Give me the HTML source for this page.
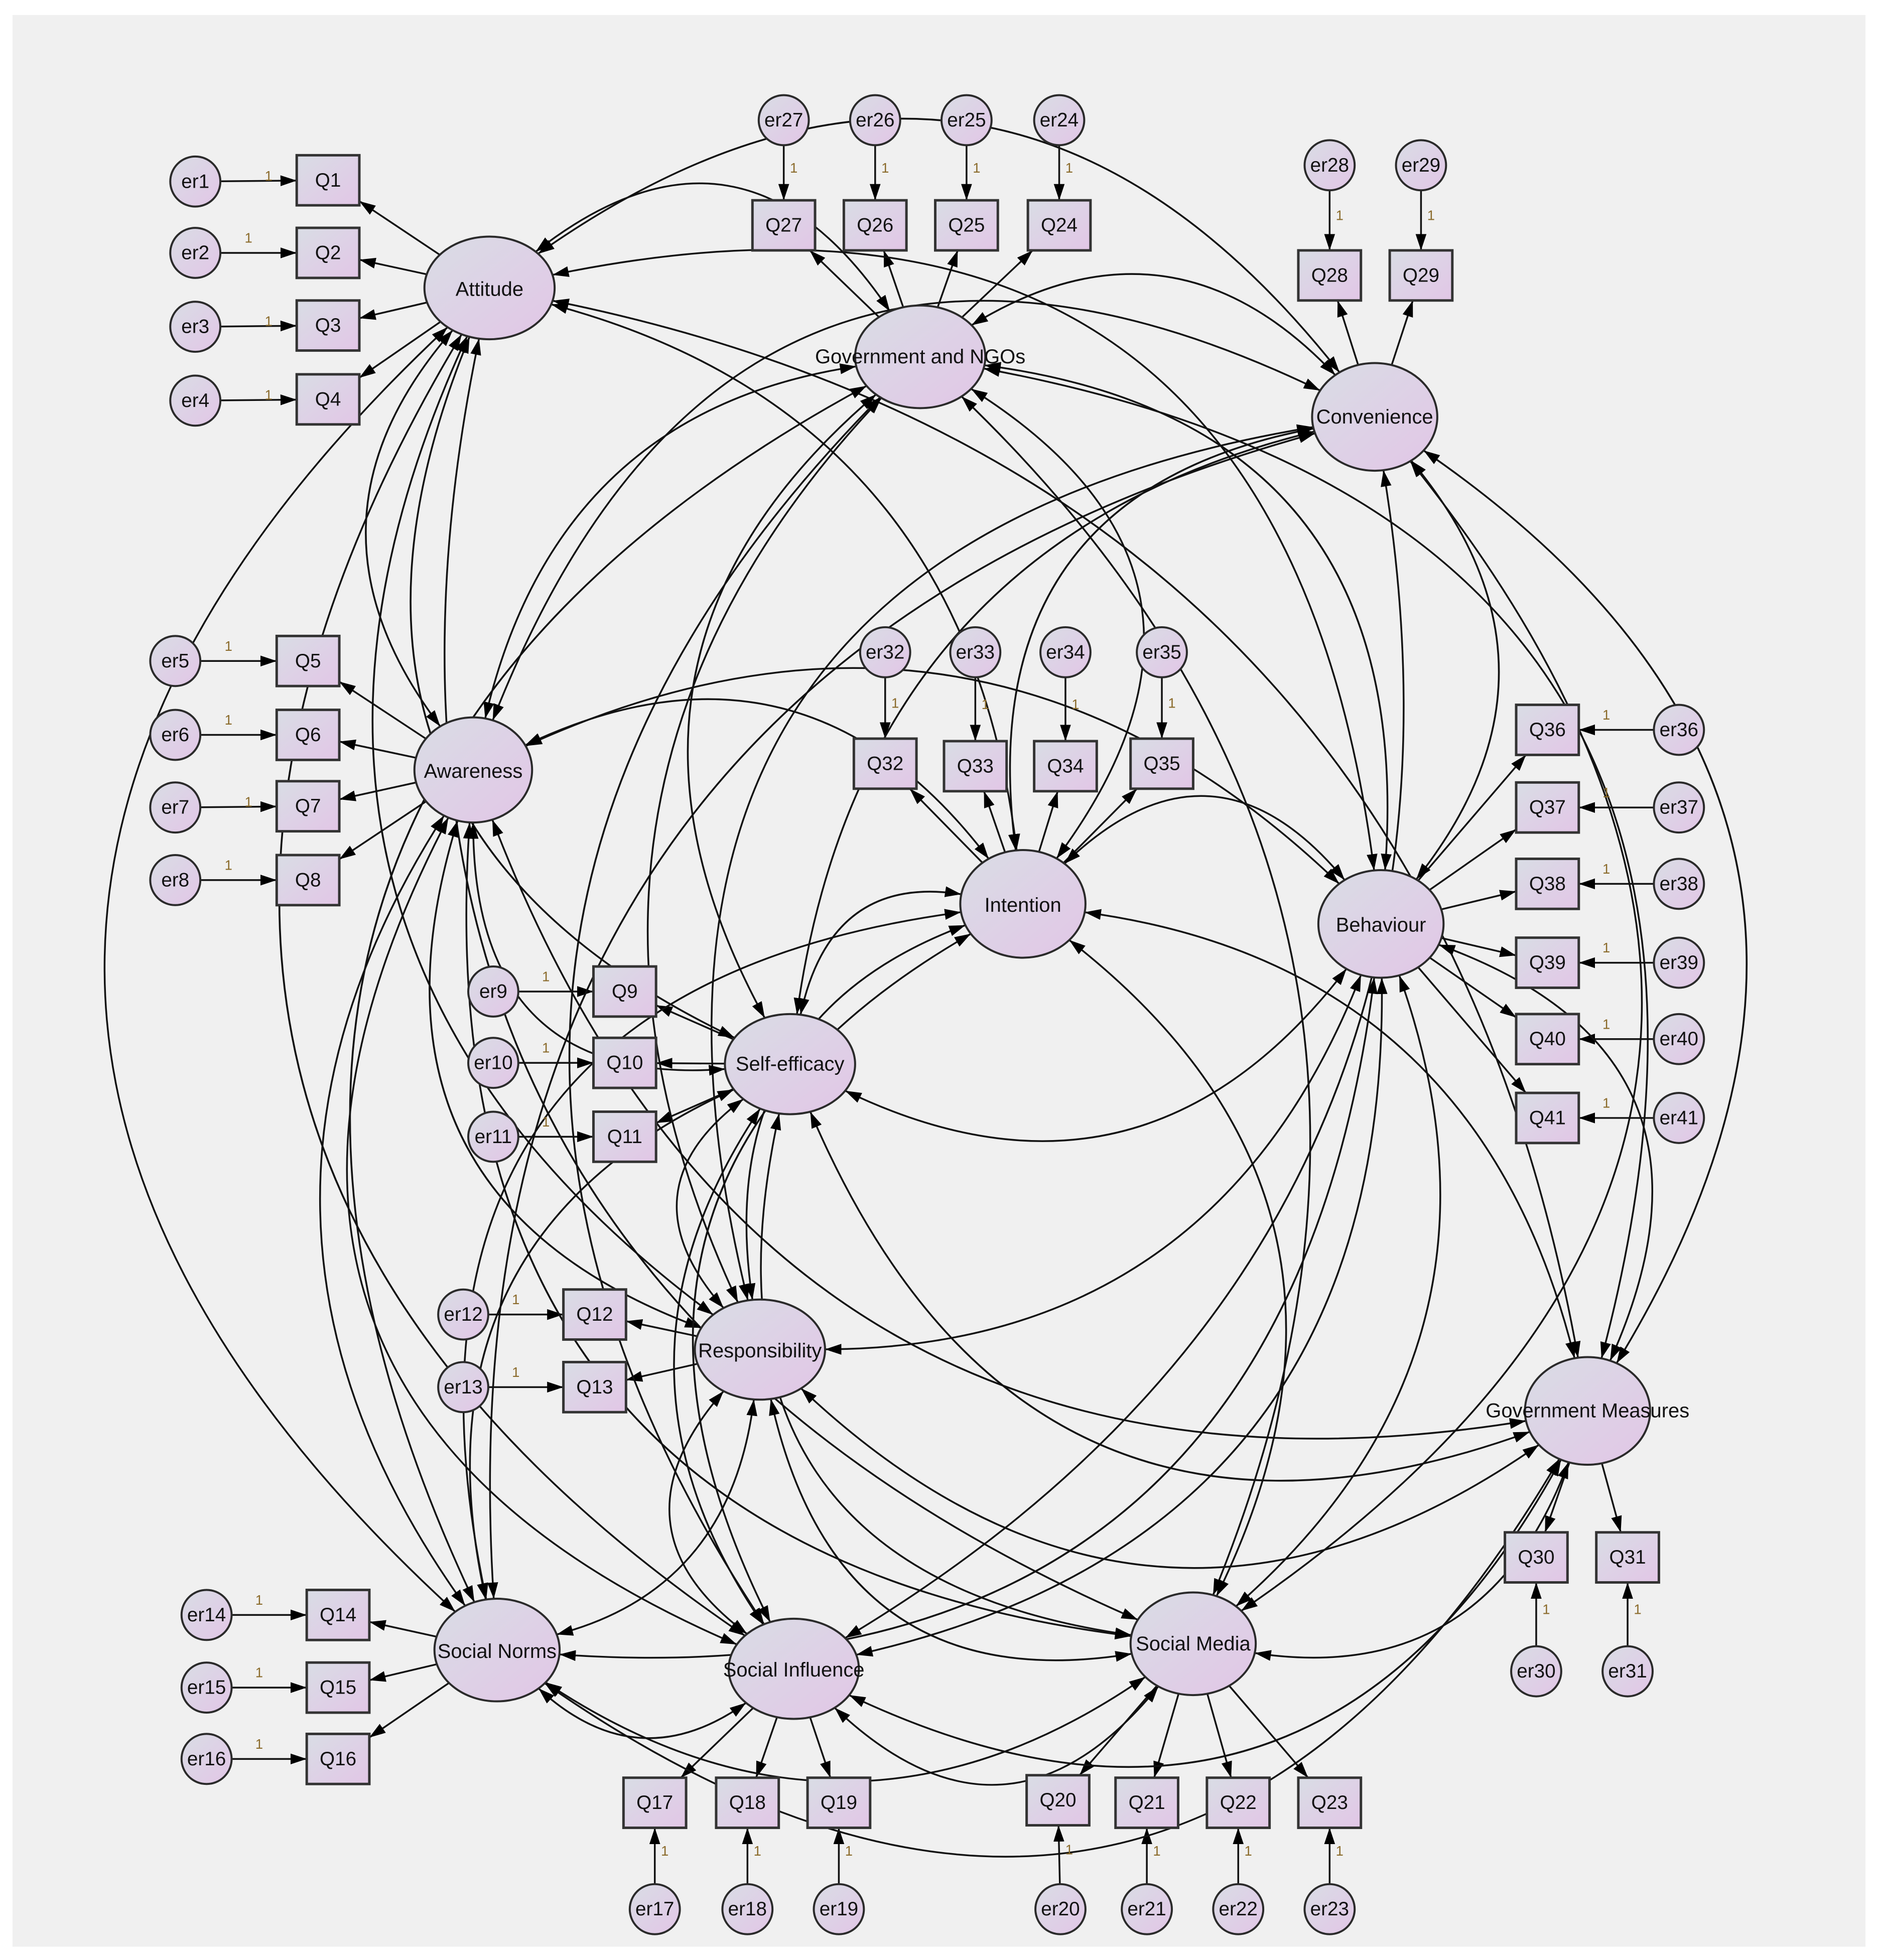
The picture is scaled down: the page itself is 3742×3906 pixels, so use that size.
<!DOCTYPE html>
<html><head><meta charset="utf-8">
<style>
html,body{margin:0;padding:0;background:#fff;}
svg{display:block;}
.e{fill:url(#gr);stroke:#2a2a2a;stroke-width:1.6;}
.b{fill:url(#gr);stroke:#333;stroke-width:2;}
text{font-family:"Liberation Sans",sans-serif;fill:#111;text-anchor:middle;dominant-baseline:central;}
.lt{font-size:16px;}
.qt{font-size:15.5px;}
.et{font-size:15.5px;}
.one{font-size:11px;fill:#8a6a2a;}
.ln{fill:none;stroke:#111;stroke-width:1.4;}
</style></head>
<body>
<svg width="3742" height="3906" viewBox="0 0 1500 1565.6" preserveAspectRatio="none" xmlns="http://www.w3.org/2000/svg">
<defs>
<linearGradient id="gr" x1="0" y1="0" x2="1" y2="1">
<stop offset="0" stop-color="#d9dde5"/><stop offset="1" stop-color="#e2c6e6"/>
</linearGradient>
<marker id="ah" viewBox="0 0 12 8" refX="12" refY="4" markerWidth="13" markerHeight="9" markerUnits="userSpaceOnUse" orient="auto-start-reverse">
<path d="M0,0 L12,4 L0,8 z" fill="#000"/></marker>
</defs>
<rect x="0" y="0" width="1500" height="1565.6" fill="#fff"/>
<rect x="10" y="12" width="1480" height="1543" fill="#f0f0f0"/>
<g id="L"></g>
<g id="N">
<ellipse class="e" cx="391" cy="230" rx="52" ry="41"/><text class="lt" x="391" y="231">Attitude</text>
<ellipse class="e" cx="735" cy="285" rx="52" ry="41"/><text class="lt" x="735" y="285">Government and NGOs</text>
<ellipse class="e" cx="1098" cy="333" rx="50" ry="43"/><text class="lt" x="1098" y="333">Convenience</text>
<ellipse class="e" cx="378" cy="615" rx="47" ry="42"/><text class="lt" x="378" y="616">Awareness</text>
<ellipse class="e" cx="817" cy="722" rx="50" ry="43"/><text class="lt" x="817" y="723">Intention</text>
<ellipse class="e" cx="1103" cy="738" rx="50" ry="43"/><text class="lt" x="1103" y="739">Behaviour</text>
<ellipse class="e" cx="631" cy="850" rx="52" ry="40"/><text class="lt" x="631" y="850">Self-efficacy</text>
<ellipse class="e" cx="607" cy="1078" rx="52" ry="40"/><text class="lt" x="607" y="1079">Responsibility</text>
<ellipse class="e" cx="1268" cy="1127" rx="50" ry="43"/><text class="lt" x="1268" y="1127">Government Measures</text>
<ellipse class="e" cx="397" cy="1318" rx="50" ry="41"/><text class="lt" x="397" y="1319">Social Norms</text>
<ellipse class="e" cx="634" cy="1333" rx="52" ry="40"/><text class="lt" x="634" y="1334">Social Influence</text>
<ellipse class="e" cx="953" cy="1313" rx="50" ry="41"/><text class="lt" x="953" y="1313">Social Media</text>
</g>
<g id="B"></g>
<g id="T">
<text class="qt" x="262" y="144">Q1</text><text class="qt" x="262" y="202">Q2</text><text class="qt" x="262" y="260">Q3</text><text class="qt" x="262" y="319">Q4</text>
<text class="qt" x="626" y="180">Q27</text><text class="qt" x="699" y="180">Q26</text><text class="qt" x="772" y="180">Q25</text><text class="qt" x="846" y="180">Q24</text>
<text class="qt" x="1062" y="220">Q28</text><text class="qt" x="1135" y="220">Q29</text>
<text class="qt" x="246" y="528">Q5</text><text class="qt" x="246" y="587">Q6</text><text class="qt" x="246" y="644">Q7</text><text class="qt" x="246" y="703">Q8</text>
<text class="qt" x="707" y="610">Q32</text><text class="qt" x="779" y="612">Q33</text><text class="qt" x="851" y="612">Q34</text><text class="qt" x="928" y="610">Q35</text>
<text class="qt" x="1236" y="583">Q36</text><text class="qt" x="1236" y="645">Q37</text><text class="qt" x="1236" y="706">Q38</text><text class="qt" x="1236" y="769">Q39</text><text class="qt" x="1236" y="830">Q40</text><text class="qt" x="1236" y="893">Q41</text>
<text class="qt" x="499" y="792">Q9</text><text class="qt" x="499" y="849">Q10</text><text class="qt" x="499" y="908">Q11</text>
<text class="qt" x="475" y="1050">Q12</text><text class="qt" x="475" y="1108">Q13</text>
<text class="qt" x="1227" y="1244">Q30</text><text class="qt" x="1300" y="1244">Q31</text>
<text class="qt" x="270" y="1290">Q14</text><text class="qt" x="270" y="1348">Q15</text><text class="qt" x="270" y="1405">Q16</text>
<text class="qt" x="523" y="1440">Q17</text><text class="qt" x="597" y="1440">Q18</text><text class="qt" x="670" y="1440">Q19</text>
<text class="qt" x="845" y="1438">Q20</text><text class="qt" x="916" y="1440">Q21</text><text class="qt" x="989" y="1440">Q22</text><text class="qt" x="1062" y="1440">Q23</text>
<text class="et" x="156" y="145">er1</text><text class="et" x="156" y="202">er2</text><text class="et" x="156" y="261">er3</text><text class="et" x="156" y="320">er4</text>
<text class="et" x="626" y="96">er27</text><text class="et" x="699" y="96">er26</text><text class="et" x="772" y="96">er25</text><text class="et" x="846" y="96">er24</text>
<text class="et" x="1062" y="132">er28</text><text class="et" x="1135" y="132">er29</text>
<text class="et" x="140" y="528">er5</text><text class="et" x="140" y="587">er6</text><text class="et" x="140" y="645">er7</text><text class="et" x="140" y="703">er8</text>
<text class="et" x="707" y="521">er32</text><text class="et" x="779" y="521">er33</text><text class="et" x="851" y="521">er34</text><text class="et" x="928" y="521">er35</text>
<text class="et" x="1341" y="583">er36</text><text class="et" x="1341" y="645">er37</text><text class="et" x="1341" y="706">er38</text><text class="et" x="1341" y="769">er39</text><text class="et" x="1341" y="830">er40</text><text class="et" x="1341" y="893">er41</text>
<text class="et" x="394" y="792">er9</text><text class="et" x="394" y="849">er10</text><text class="et" x="394" y="908">er11</text>
<text class="et" x="370" y="1050">er12</text><text class="et" x="370" y="1108">er13</text>
<text class="et" x="1227" y="1335">er30</text><text class="et" x="1300" y="1335">er31</text>
<text class="et" x="165" y="1290">er14</text><text class="et" x="165" y="1348">er15</text><text class="et" x="165" y="1405">er16</text>
<text class="et" x="523" y="1525">er17</text><text class="et" x="597" y="1525">er18</text><text class="et" x="670" y="1525">er19</text><text class="et" x="847" y="1525">er20</text><text class="et" x="916" y="1525">er21</text><text class="et" x="989" y="1525">er22</text><text class="et" x="1062" y="1525">er23</text>
</g>
</svg>
<script>
(function(){
var NS="http://www.w3.org/2000/svg";
var L=document.getElementById('L'),B=document.getElementById('B');
var lat={At:[391,230,52,41],Gv:[735,285,52,41],Cv:[1098,333,50,43],Aw:[378,615,47,42],In:[817,722,50,43],Be:[1103,738,50,43],Se:[631,850,52,40],Re:[607,1078,52,40],Gm:[1268,1127,50,43],Sn:[397,1318,50,41],Si:[634,1333,52,40],Sm:[953,1313,50,41]};
var Q={1:[262,144],2:[262,202],3:[262,260],4:[262,319],27:[626,180],26:[699,180],25:[772,180],24:[846,180],28:[1062,220],29:[1135,220],5:[246,528],6:[246,587],7:[246,644],8:[246,703],32:[707,610],33:[779,612],34:[851,612],35:[928,610],36:[1236,583],37:[1236,645],38:[1236,706],39:[1236,769],40:[1236,830],41:[1236,893],9:[499,792],10:[499,849],11:[499,908],12:[475,1050],13:[475,1108],30:[1227,1244],31:[1300,1244],14:[270,1290],15:[270,1348],16:[270,1405],17:[523,1440],18:[597,1440],19:[670,1440],20:[845,1438],21:[916,1440],22:[989,1440],23:[1062,1440]};
var ER={1:[156,145],2:[156,202],3:[156,261],4:[156,320],27:[626,96],26:[699,96],25:[772,96],24:[846,96],28:[1062,132],29:[1135,132],5:[140,528],6:[140,587],7:[140,645],8:[140,703],32:[707,521],33:[779,521],34:[851,521],35:[928,521],36:[1341,583],37:[1341,645],38:[1341,706],39:[1341,769],40:[1341,830],41:[1341,893],9:[394,792],10:[394,849],11:[394,908],12:[370,1050],13:[370,1108],30:[1227,1335],31:[1300,1335],14:[165,1290],15:[165,1348],16:[165,1405],17:[523,1525],18:[597,1525],19:[670,1525],20:[847,1525],21:[916,1525],22:[989,1525],23:[1062,1525]};
var ind={At:[1,2,3,4],Gv:[24,25,26,27],Cv:[28,29],Aw:[5,6,7,8],In:[32,33,34,35],Be:[36,37,38,39,40,41],Se:[9,10,11],Re:[12,13],Gm:[30,31],Sn:[14,15,16],Si:[17,18,19],Sm:[20,21,22,23]};
var BW=25,BH=20,R=20;
function el(t,a,p){var e=document.createElementNS(NS,t);for(var k in a)e.setAttribute(k,a[k]);(p||L).appendChild(e);return e;}
function eEdge(c,dx,dy){var l=Math.sqrt(dx*dx+dy*dy)||1;dx/=l;dy/=l;var t=1/Math.sqrt(dx*dx/(c[2]*c[2])+dy*dy/(c[3]*c[3]));return [c[0]+dx*t,c[1]+dy*t];}
function bEdge(b,dx,dy){var t=Math.min(Math.abs(dx)>1e-6?BW/Math.abs(dx):1e9,Math.abs(dy)>1e-6?BH/Math.abs(dy):1e9);return [b[0]+dx*t,b[1]+dy*t];}
function cEdge(c,dx,dy){var l=Math.sqrt(dx*dx+dy*dy)||1;return [c[0]+dx/l*R,c[1]+dy/l*R];}
for(var k in Q){var q=Q[k];el('rect',{x:q[0]-BW,y:q[1]-BH,width:2*BW,height:2*BH,'class':'b'},B);}
for(var k in ER){var c=ER[k];el('circle',{cx:c[0],cy:c[1],r:R,'class':'e'},B);}
for(var k in ER){var c=ER[k],q=Q[k],dx=q[0]-c[0],dy=q[1]-c[1];var s=cEdge(c,dx,dy),t=bEdge(q,-dx,-dy);
el('path',{d:'M'+s[0]+','+s[1]+'L'+t[0]+','+t[1],'class':'ln','marker-end':'url(#ah)'});
var mx=(s[0]+t[0])/2,my=(s[1]+t[1])/2;var tx=el('text',{x:mx+(dy===0?-8:8),y:my+(dy===0?-12:-4),'class':'one'},B.parentNode);tx.textContent='1';}
for(var a in ind){var c=lat[a];ind[a].forEach(function(n,i){var q=Q[n],dx=q[0]-c[0],dy=q[1]-c[1];var s=eEdge(c,dx,dy),t=bEdge(q,-dx,-dy);
el('path',{d:'M'+s[0]+','+s[1]+'L'+t[0]+','+t[1],'class':'ln','marker-end':'url(#ah)'});});}
var keys=Object.keys(lat),CX=800,CY=800;
for(var i=0;i<keys.length;i++)for(var j=i+1;j<keys.length;j++){
var A=lat[keys[i]],Bb=lat[keys[j]];var mx=(A[0]+Bb[0])/2,my=(A[1]+Bb[1])/2;var dx=Bb[0]-A[0],dy=Bb[1]-A[1];var d=Math.sqrt(dx*dx+dy*dy);
var px=-dy/d,py=dx/d;var ox=mx-CX,oy=my-CY;if(px*ox+py*oy<0){px=-px;py=-py;}
var f=0.34+0.2*((i*7+j*3)%4)/3;var cx=mx+px*d*f,cy=my+py*d*f;
var s=eEdge(A,cx-A[0],cy-A[1]),t=eEdge(Bb,cx-Bb[0],cy-Bb[1]);
el('path',{d:'M'+s[0]+','+s[1]+'Q'+cx+','+cy+' '+t[0]+','+t[1],'class':'ln','marker-start':'url(#ah)','marker-end':'url(#ah)'});}
var T=document.getElementById('T');T.parentNode.appendChild(T);
})();
</script>
</body></html>
